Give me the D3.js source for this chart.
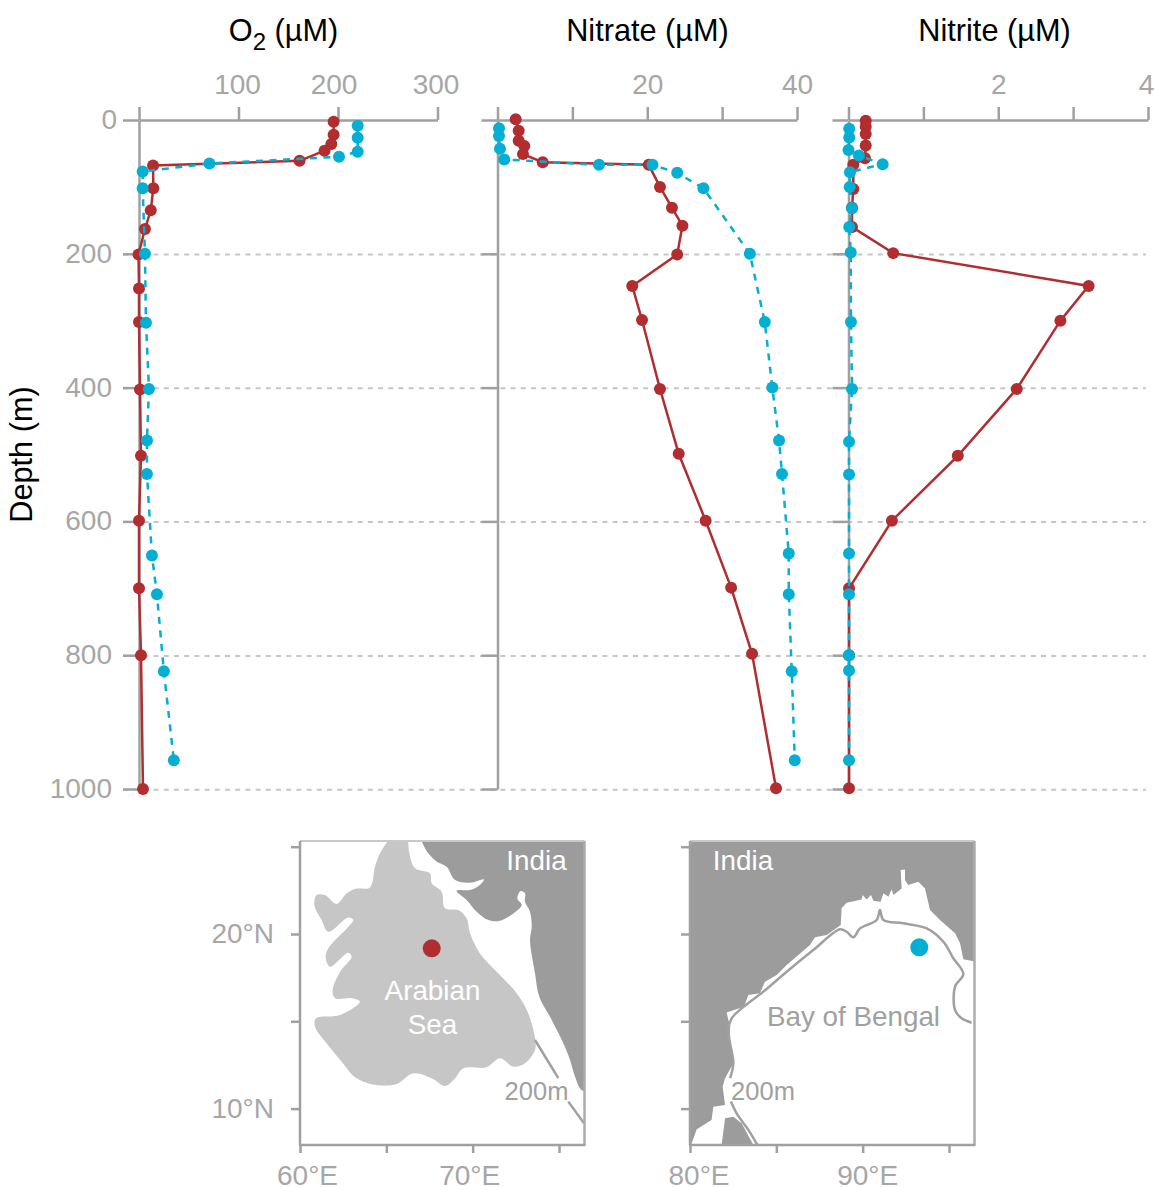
<!DOCTYPE html>
<html><head><meta charset="utf-8">
<script src="https://cdn.jsdelivr.net/npm/d3@7"></script>
<style>html,body{margin:0;background:#fff}svg{display:block;font-family:"Liberation Sans",Arial,sans-serif}</style>
</head><body><svg id="c" width="1154" height="1187"></svg>
<script>
// Profile data: values and depths
const o2RedDepth=[2.5,22,36,46,61,68,102,135,163,201,252,302,403,502,599,700,800,1000];
const o2RedValue=[195.6,195.6,193.3,186.5,161.4,14.1,14.4,11.8,6,-0.5,0,0,1,2,0,0,2,4];
const o2BlueDepth=[8.5,26.4,47.3,55,65,77,102,200,303,402,479,529,651,709,824,957];
const o2BlueValue=[219.8,219.8,219.8,201,70.8,3.7,3.7,6,7,10,8,8,13,18,25,35];
const no3RedDepth=[-1,16,31,39,51,63,67,100,131,158,201,248,299,402,499,599,699,798,999];
const no3RedValue=[2.43,2.83,2.83,3.58,3.4,6.04,20.2,21.7,23.3,24.7,24,18,19.3,21.7,24.2,27.8,31.2,34,37.2];
const no3BlueDepth=[12.4,24,43,59,67,67,79,102,200,302,400,479,529,648,709,824,957];
const no3BlueValue=[0.2,0.2,0.33,0.9,13.56,20.7,24,27.5,33.7,35.7,36.7,37.6,38,38.9,38.9,39.3,39.7];
const no2RedDepth=[1,10,21,38,57,67,103,131,160,199,248,300,402,502,599,700,800,999];
const no2RedValue=[0.23,0.23,0.23,0.23,0.22,0.064,0.064,0.047,0.047,0.597,3.207,2.83,2.247,1.46,0.58,0.007,0.007,0.007];
const no2BlueDepth=[13,26,45,53,66,78,100,132,160,198,302,402,481,530,648,709,800,823,957];
const no2BlueValue=[0.01,0.01,0,0.14,0.456,0.02,0.016,0.047,0.01,0.03,0.033,0.047,0.007,0.007,0.007,0.007,0.007,0.007,0.007];
const depthTicks=[0,200,400,600,800,1000];
const gridDepths=[200,400,600,800,1000];
const o2Ticks=[0,100,200,300], no3Ticks=[0,10,20,30,40], no2Ticks=[0,1,2,3,4];

// Map outlines as [lon, lat]
const arabianSea=[[65.06,26],[66.27,26],[66.27,25.29],[66.33,24.62],[66.66,23.76],[67.53,23.47],[67.63,22.90],[68.20,22.42],[68.40,21.47],[69.17,21.37],[69.65,20.90],[69.85,20.04],[70.42,18.89],[71.39,17.84],[72.55,16.60],[73.22,15.45],[73.61,14.03],[73.61,13.36],[73.03,12.60],[72.36,12.40],[71.58,12.88],[70.81,12.37],[69.46,12.31],[68.98,11.74],[68.40,11.30],[67.63,11.74],[66.56,12.02],[65.60,11.41],[64.44,11.35],[63.28,11.74],[62.41,12.69],[61.54,13.74],[60.87,14.69],[60.93,15.17],[62.32,15.36],[63.47,16.13],[62.99,16.32],[62.03,16.32],[61.89,16.79],[62.32,17.84],[62.99,18.70],[62.80,18.93],[61.74,18.13],[61.49,18.61],[61.64,19.18],[62.80,20.42],[63.09,20.80],[62.80,20.95],[61.64,20.13],[61.25,20.80],[60.83,21.66],[60.97,22.23],[61.45,22.23],[62.12,21.72],[62.70,22.33],[63.19,22.58],[64.05,22.67],[64.34,23.85],[64.63,24.62],[65.06,25.29]];
const indiaWest=[[67.05,25.29],[67.43,24.62],[67.92,24.14],[68.49,23.85],[68.98,23.09],[69.85,22.94],[70.66,23.13],[70.42,22.81],[69.85,22.52],[69.07,22.48],[69.65,21.95],[70.23,21.28],[70.91,20.80],[71.58,20.76],[72.36,21.18],[72.84,21.66],[72.59,22.04],[72.78,22.46],[73.03,22.33],[73.03,21.85],[73.32,21.28],[73.42,20.42],[73.32,19.66],[73.61,17.75],[73.86,16.41],[74.58,15.08],[75.25,13.74],[75.64,12.79],[75.93,11.83],[76.31,11.07],[76.9,10.97],[78,11],[78,26],[67,26]];
const contourWestA=[[73.61,13.93],[74.96,11.74]];
const contourWestB=[[75.54,10.40],[76.45,9.16]];
const indiaEast=[[80,25.34],[96.51,25.34],[96.51,18.42],[95.83,18.55],[95.64,19.47],[95.35,20.04],[94.48,20.80],[93.90,21.37],[93.61,22.61],[93.22,22.99],[92.64,22.81],[92.45,23.09],[92.45,23.70],[92.20,23.66],[92.26,22.61],[91.78,22.23],[91.68,22.56],[91.49,22.14],[91.20,22.33],[91.04,21.85],[90.62,21.91],[90.48,22.23],[90.23,21.98],[90.00,22.23],[89.94,21.98],[89.07,21.79],[88.78,21.47],[88.73,20.52],[87.92,19.94],[87.24,19.81],[86.95,19.37],[85.60,18.23],[85.02,17.65],[84.34,17.27],[84.05,16.60],[83.38,16.51],[83.13,15.84],[82.12,15.50],[82.32,14.69],[82.32,13.74],[82.51,12.60],[82.03,11.74],[81.89,11.26],[82.03,10.21],[81.35,10.11],[81.25,9.35],[80.39,8.82],[80.10,8.02],[80,7.92]];
const sriLanka=[[81.83,7.92],[82.03,9.45],[82.51,9.54],[82.99,9.16],[83.67,7.92]];
const contourEastA=[[83.90,7.92],[83.38,8.78],[82.70,9.73],[82.37,10.40]];
const contourEastB=[[82.32,11.74],[82.51,12.60],[82.32,13.74],[82.22,14.50],[82.41,15.17],[82.99,15.74],[84.25,16.70],[85.60,17.84],[87.14,19.08],[88.69,20.27],[89.07,20.13],[89.46,19.81],[89.85,20.32],[90.81,20.80],[91.00,21.37],[91.20,20.80],[92.36,20.61],[93.71,20.32],[94.67,19.56],[95.25,18.61],[95.83,17.71],[95.35,16.98],[95.35,15.64],[95.73,15.17],[96.31,14.92]];
const siteWest=[67.63,19.18], siteEast=[93.28,19.24];
const lonTicksWest=[60,65,70,75], lonTicksEast=[80,85,90,95], latTicks=[25,20,15,10];

const RED="#b12d30",BLUE="#04afd3",GREY="#a0a0a0",LAND="#9c9c9c",SEA="#c7c6c7",LBL="#a6a6a6";
const FS=28, TITLE=30.7;
const FF="'Liberation Sans',Arial,sans-serif";
const svg=d3.select("#c");
const y=d3.scaleLinear().domain([0,1000]).range([120,789]);
const panels=[
 {title:"Nitrate",dom:[0,40],r:[497.5,797],ticks:no3Ticks,labels:[20,40],shift:{},red:[no3RedValue,no3RedDepth],blue:[no3BlueValue,no3BlueDepth]},
 {title:"Nitrite",dom:[0,4],r:[848.5,1148],ticks:no2Ticks,labels:[2,4],shift:{4:-2},red:[no2RedValue,no2RedDepth],blue:[no2BlueValue,no2BlueDepth]},
 {title:"O2",dom:[0,300],r:[139,437.5],ticks:o2Ticks,labels:[100,200,300],shift:{100:-1.5,200:-4.5,300:-2},red:[o2RedValue,o2RedDepth],blue:[o2BlueValue,o2BlueDepth]}
];
// grid
svg.append("g").selectAll("line").data(gridDepths).join("line")
 .attr("x1",123).attr("x2",1146).attr("y1",d=>y(d)+0.7).attr("y2",d=>y(d)+0.7)
 .attr("stroke","#c6c6c6").attr("stroke-width",2).attr("stroke-dasharray","5 5.2");

function styleAxis(g){
 g.selectAll(".domain,.tick line").attr("stroke",GREY).attr("stroke-width",2.5);
 g.selectAll("text").attr("fill",LBL).attr("font-size",FS).attr("font-family",FF);
}
panels.forEach(p=>{
 const x=d3.scaleLinear().domain(p.dom).range(p.r);
 const top=svg.append("g").attr("transform","translate(0,120)")
  .call(d3.axisTop(x).tickValues(p.ticks).tickSize(13).tickSizeOuter(0).tickPadding(13.5)
  .tickFormat(d=>p.labels.includes(d)?d:""));
 styleAxis(top);
 top.selectAll(".tick text").attr("dx",d=>p.shift[d]||0);
 const left=svg.append("g").attr("transform",`translate(${p.r[0]},0)`)
  .call(d3.axisLeft(y).tickValues(depthTicks).tickSize(16).tickSizeOuter(0).tickPadding(11)
  .tickFormat(d=>p.title==="O2"?d:""));
 styleAxis(left);
 left.selectAll(".tick text").attr("dy","0.3em").attr("dx",d=>d===0?5:0);
 const line=d3.line().x(d=>x(d[0])).y(d=>y(d[1]));
 const red=d3.zip(p.red[0],p.red[1]), blue=d3.zip(p.blue[0],p.blue[1]);
 svg.append("path").attr("d",line(red)).attr("fill","none").attr("stroke",RED).attr("stroke-width",2.5);
 svg.append("g").selectAll("circle").data(red).join("circle").attr("cx",d=>x(d[0])).attr("cy",d=>y(d[1])).attr("r",6).attr("fill",RED);
 svg.append("path").attr("d",line(blue)).attr("fill","none").attr("stroke",BLUE).attr("stroke-width",2.5).attr("stroke-dasharray","7 6.5");
 svg.append("g").selectAll("circle").data(blue).join("circle").attr("cx",d=>x(d[0])).attr("cy",d=>y(d[1])).attr("r",6).attr("fill",BLUE);
});
// titles
function title(xp,txt){return svg.append("text").attr("x",xp).attr("y",41).attr("text-anchor","middle").attr("font-size",TITLE).attr("fill","#000").text(txt);}
title(647.5,"Nitrate (µM)");
title(994.5,"Nitrite (µM)");
const o=svg.append("text").attr("x",283.5).attr("y",41).attr("text-anchor","middle").attr("font-size",TITLE).attr("fill","#000");
o.append("tspan").text("O");
o.append("tspan").attr("dy",9).attr("font-size",24).text("2");
o.append("tspan").attr("dy",-9).text(" (µM)");
svg.append("text").attr("transform","translate(32,454.5) rotate(-90)").attr("text-anchor","middle").attr("font-size",TITLE).attr("fill","#000").text("Depth (m)");

// maps
const lat=d3.scaleLinear().domain([20,10]).range([934,1108.6]);
const smooth=d3.curveCatmullRom.alpha(0.5);
function mapPanel(x0,lon0,ticks,labels,shift,showLat){
 const lon=d3.scaleLinear().domain([lon0,lon0+15]).range([x0,x0+259]);
 const xr=x0+284.5, yt=841, yb=1145;
 const pt=d3.line().x(d=>lon(d[0])).y(d=>lat(d[1]));
 const sm=d3.line().x(d=>lon(d[0])).y(d=>lat(d[1])).curve(smooth);
 const clip="clip"+lon0;
 svg.append("clipPath").attr("id",clip).append("rect").attr("x",x0).attr("y",yt).attr("width",xr-x0).attr("height",yb-yt);
 const g=svg.append("g").attr("clip-path",`url(#${clip})`);
 return {lon,pt,sm,g,finish(){
  svg.append("line").attr("x1",x0).attr("x2",xr).attr("y1",yt).attr("y2",yt).attr("stroke","#c9c9c9").attr("stroke-width",2);
  svg.append("line").attr("x1",xr).attr("x2",xr).attr("y1",yt).attr("y2",yb).attr("stroke","#acacac").attr("stroke-width",2.5);
  const b=svg.append("g").attr("transform",`translate(0,${yb})`)
   .call(d3.axisBottom(lon).tickValues(ticks).tickSize(8).tickSizeOuter(0).tickPadding(12).tickFormat(d=>labels.includes(d)?d+"°E":""));
  b.select(".domain").remove();
  styleAxis(b);
  b.selectAll(".tick text").attr("dx",d=>shift[d]||0);
  svg.append("line").attr("x1",x0-1).attr("x2",xr+1).attr("y1",yb).attr("y2",yb).attr("stroke",GREY).attr("stroke-width",2.5);
  const l=svg.append("g").attr("transform",`translate(${x0},0)`)
   .call(d3.axisLeft(lat).tickValues(latTicks).tickSize(9).tickSizeOuter(0).tickPadding(17).tickFormat(d=>showLat&&d%10===0&&d!==25?d+"°N":""));
  l.select(".domain").remove();
  styleAxis(l);
  svg.append("line").attr("x1",x0).attr("x2",x0).attr("y1",yt).attr("y2",yb).attr("stroke",GREY).attr("stroke-width",2.5);
 }};
}
const mw=mapPanel(300,60,lonTicksWest,[60,70],{60:7,70:-3.5},true);
mw.g.append("path").attr("d",mw.sm(arabianSea)+"Z").attr("fill",SEA);
mw.g.append("path").attr("d",mw.sm(indiaWest)+"Z").attr("fill",LAND);
[contourWestA,contourWestB].forEach(c=>mw.g.append("path").attr("d",mw.pt(c)).attr("fill","none").attr("stroke",GREY).attr("stroke-width",2.5));
mw.g.append("circle").attr("cx",mw.lon(siteWest[0])).attr("cy",lat(siteWest[1])).attr("r",9).attr("fill",RED);
mw.finish();
const me=mapPanel(690,80,lonTicksEast,[80,90],{80:8.5,90:4.5},false);
me.g.append("path").attr("d",me.pt(indiaEast)+"Z").attr("fill",LAND);
me.g.append("path").attr("d",me.pt(sriLanka)+"Z").attr("fill",LAND);
[contourEastA,contourEastB].forEach(c=>me.g.append("path").attr("d",me.sm(c)).attr("fill","none").attr("stroke",GREY).attr("stroke-width",2.5));
me.g.append("circle").attr("cx",me.lon(siteEast[0])).attr("cy",lat(siteEast[1])).attr("r",9).attr("fill",BLUE);
me.finish();
function lab(xp,yp,t,c,fs){svg.append("text").attr("x",xp).attr("y",yp).attr("text-anchor","middle").attr("font-size",fs||27.8).attr("fill",c).text(t);}
lab(536.5,870,"India","#fff");lab(432.5,1000,"Arabian","#fff");lab(432.5,1034,"Sea","#fff");lab(536.5,1100,"200m","#a0a0a0",25.5);
lab(743,870,"India","#fff");lab(853.5,1026,"Bay of Bengal","#a0a0a0");lab(763,1100,"200m","#a0a0a0",25.5);
</script></body></html>
